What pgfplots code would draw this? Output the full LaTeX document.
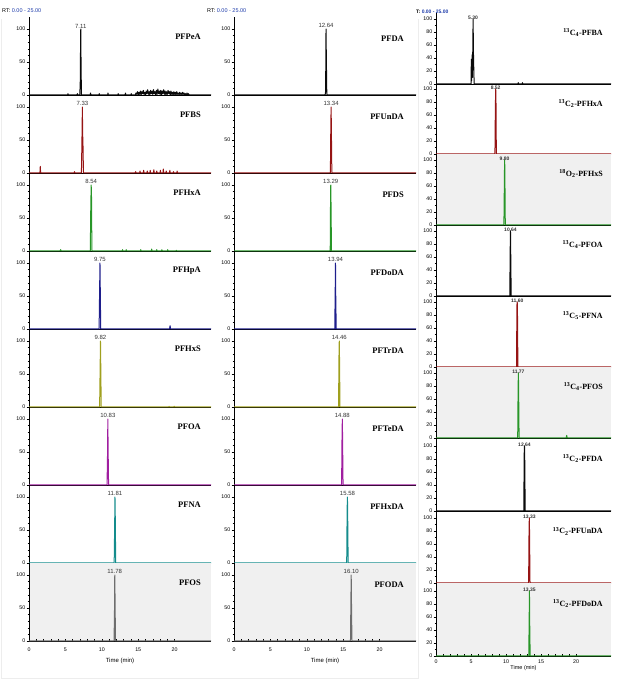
\documentclass[border=0pt]{standalone}
\usepackage{fontspec}
\setmainfont{Liberation Serif}
\setsansfont{Liberation Sans}
\usepackage{pgfplots}
\pgfplotsset{compat=1.18}
\definecolor{shadegray}{RGB}{240,240,240}
\definecolor{cblk}{RGB}{10,10,10}
\definecolor{cred}{RGB}{150,20,20}
\definecolor{cgrn}{RGB}{40,150,40}
\definecolor{cnav}{RGB}{30,30,140}
\definecolor{colv}{RGB}{160,160,30}
\definecolor{cpur}{RGB}{160,30,160}
\definecolor{ctea}{RGB}{20,140,140}
\definecolor{cgry}{RGB}{110,110,110}
\definecolor{rtblue}{RGB}{30,60,170}
\newcommand{\tk}{\sffamily\fontsize{5.3}{5.3}\selectfont}
\pgfplotsset{
 base/.style={scale only axis, xmin=0, xmax=25, ymin=0, clip=false,
   axis lines=left, axis line style={-, line width=0.5pt, black},
   xtick=\empty, tick align=outside, major tick length=2.5pt, minor tick length=1.5pt,
   tick style={line width=0.4pt, black},
   /pgf/number format/assume math mode=true,
   ticklabel style={font=\tk, inner sep=1pt},
   anchor=south west},
 colL/.style={base, width=182pt, height=78pt, ymax=118.2, ytick={0,50,100}, minor y tick num=4},
 colR/.style={base, width=175pt, ytick={0,20,...,100}, minor y tick num=1},
 bottom/.style={xtick={0,5,...,20}, minor x tick num=4, xlabel={Time (min)},
   x tick label style={yshift=-3pt},
   major x tick style={yshift=1.8pt, line width=0.5pt},
   minor x tick style={yshift=1.6pt},
   xlabel style={font=\sffamily\fontsize{6}{6}\selectfont, inner sep=1pt, yshift=-4pt}},
 bottomR/.style={xtick={0,5,...,20}, minor x tick num=4, xlabel={Time (min)},
   major x tick style={yshift=1.5pt, line width=0.5pt},
   minor x tick style={yshift=1.5pt},
   xlabel style={font=\sffamily\fontsize{5.5}{5.5}\selectfont, inner sep=1pt}},
 shade/.style={axis background/.style={fill=shadegray, draw=none}},
 pk/.style={line width=1pt, line join=round},
}
\tikzset{rtl/.style={anchor=south, inner sep=0.8pt, font=\sffamily\fontsize{6}{6}\selectfont, text=black!80},
  cn/.style={anchor=east, inner sep=0pt, font=\bfseries\fontsize{8.5}{8.5}\selectfont}}
\newcommand{\rt}[2][]{\node[rtl,#1] at (axis cs:#2,100) {#2};}
\newcommand{\cname}[1]{\node[cn] at (rel axis cs:\labx,\laby) {#1};}
\begin{document}
\begin{tikzpicture}
\useasboundingbox (0,0) rectangle (621pt,685pt);
% faint column frames
\draw[black!7, line width=0.6pt] (1pt,7pt) -- (1pt,666pt);
\draw[black!7, line width=0.6pt] (1pt,7pt) -- (211pt,7pt);
\draw[black!7, line width=0.6pt] (211pt,7pt) -- (418pt,7pt) -- (418pt,666pt);
% headers
\node[anchor=west, inner sep=0pt, font=\sffamily\fontsize{5.5}{5.5}\selectfont] at (2pt,674pt) {RT: \textcolor{rtblue}{0.00 - 25.00}};
\node[anchor=west, inner sep=0pt, font=\sffamily\fontsize{5.5}{5.5}\selectfont] at (207pt,674pt) {RT: \textcolor{rtblue}{0.00 - 25.00}};
\node[anchor=west, inner sep=0pt, font=\sffamily\bfseries\fontsize{5}{5}\selectfont] at (416pt,673pt) {T: \textcolor{rtblue}{0.00 - 25.00}};
% ================= LEFT COLUMN =================
\def\labx{0.945}\def\laby{0.745}
\begin{axis}[colL, at={(29pt,590pt)}]
\addplot[pk, cblk] coordinates {(0,0)(5.3,0)(5.35,2)(5.4,0)(6.6,0)(6.65,2)(6.7,0)(6.98,0)(7.04,20)(7.08,72)(7.11,100)(7.14,60)(7.2,0)(8.4,0)(8.45,3)(8.5,0)(9.6,0)(9.65,2)(9.7,0)(10.8,0)(10.85,3)(10.9,0)(12.2,0)(12.25,2)(12.3,0)(13.2,0)(13.25,3)(13.3,0)(14.0,0)(14.05,2)(14.1,0)(14.6,0)(14.7,3)(14.8,1)(14.9,5)(15.0,0)(15.1,4)(15.2,1)(15.3,6)(15.4,0)(15.5,5)(15.6,2)(15.7,7)(15.8,1)(15.9,4)(16.0,0)(16.1,6)(16.2,2)(16.3,8)(16.4,1)(16.5,5)(16.6,0)(16.7,7)(16.8,2)(16.9,6)(17.0,1)(17.1,8)(17.2,2)(17.3,5)(17.4,0)(17.5,7)(17.6,1)(17.7,9)(17.8,2)(17.9,6)(18.0,1)(18.1,7)(18.2,0)(18.3,6)(18.4,2)(18.5,8)(18.6,1)(18.7,6)(18.8,0)(18.9,5)(19.0,1)(19.1,7)(19.2,2)(19.3,5)(19.4,0)(19.5,6)(19.6,1)(19.7,4)(19.8,0)(19.9,5)(20.0,1)(20.1,4)(20.2,0)(20.3,5)(20.4,1)(20.5,3)(20.6,0)(20.7,4)(20.8,1)(20.9,3)(21.0,0)(21.1,4)(21.2,1)(21.3,3)(21.4,0)(21.5,2)(21.6,0)(21.7,3)(21.8,0)(21.9,2)(22.0,0)(25,0)};
\rt{7.11}\cname{PFPeA}
\end{axis}
\begin{axis}[colL, at={(29pt,512pt)}]
\addplot[pk, cred] coordinates {(0,0)(1.5,0)(1.55,10)(1.6,0)(6.2,0)(6.25,2)(6.3,0)(7.2,0)(7.26,40)(7.3,70)(7.33,100)(7.37,60)(7.42,40)(7.48,0)(14.6,0)(14.65,2)(14.7,0)(15.2,0)(15.25,3)(15.3,0)(15.7,0)(15.75,4)(15.8,0)(16.2,0)(16.25,3)(16.3,0)(16.6,0)(16.65,4)(16.7,0)(17.1,0)(17.15,5)(17.2,0)(17.5,0)(17.55,3)(17.6,0)(18.0,0)(18.05,4)(18.1,0)(18.4,0)(18.45,6)(18.5,0)(18.8,0)(18.85,3)(18.9,0)(19.3,0)(19.35,4)(19.4,0)(19.8,0)(19.85,2)(19.9,0)(20.3,0)(20.35,3)(20.4,0)(25,0)};
\rt{7.33}\cname{PFBS}
\end{axis}
\begin{axis}[colL, at={(29pt,434pt)}]
\addplot[pk, cgrn] coordinates {(0,0)(4.3,0)(4.35,2)(4.4,0)(8.42,0)(8.48,60)(8.54,100)(8.58,90)(8.64,0)(12.8,0)(12.85,2)(12.9,0)(13.3,0)(13.35,2)(13.4,0)(15.3,0)(15.35,2)(15.4,0)(16.8,0)(16.85,3)(16.9,0)(17.5,0)(17.55,2)(17.6,0)(18.2,0)(18.25,2)(18.3,0)(19.0,0)(19.05,2)(19.1,0)(20.2,0)(20.25,1)(20.3,0)(25,0)};
\rt{8.54}\cname{PFHxA}
\end{axis}
\begin{axis}[colL, at={(29pt,356pt)}]
\addplot[pk, cnav] coordinates {(0,0)(9.63,0)(9.69,50)(9.75,100)(9.78,70)(9.85,0)(19.3,0)(19.38,5)(19.45,0)(25,0)};
\rt{9.75}\cname{PFHpA}
\end{axis}
\begin{axis}[colL, at={(29pt,278pt)}]
\addplot[pk, colv] coordinates {(0,0)(9.7,0)(9.76,50)(9.82,100)(9.85,72)(9.92,0)(19.2,0)(19.25,1)(19.3,0)(19.9,0)(19.95,1)(20.0,0)(25,0)};
\rt{9.82}\cname{PFHxS}
\end{axis}
\begin{axis}[colL, at={(29pt,200pt)}]
\addplot[pk, cpur] coordinates {(0,0)(10.72,0)(10.78,40)(10.83,100)(10.86,62)(10.93,0)(25,0)};
\rt{10.83}\cname{PFOA}
\end{axis}
\begin{axis}[colL, at={(29pt,122pt)}]
\addplot[pk, ctea] coordinates {(0,0)(11.7,0)(11.76,50)(11.81,100)(11.84,80)(11.91,0)(25,0)};
\rt{11.81}\cname{PFNA}
\end{axis}
\begin{axis}[colL, bottom, shade, at={(29pt,44pt)}]
\addplot[pk, cgry] coordinates {(0,0)(11.68,0)(11.74,40)(11.78,100)(11.81,75)(11.88,0)(25,0)};
\rt{11.78}\cname{PFOS}
\end{axis}
% ================= MIDDLE COLUMN =================
\def\labx{0.934}\def\laby{0.72}
\begin{axis}[colL, at={(234pt,590pt)}]
\addplot[pk, cblk] coordinates {(0,0)(12.52,0)(12.58,5)(12.62,60)(12.64,100)(12.68,60)(12.75,0)(25,0)};
\rt{12.64}\cname{PFDA}
\end{axis}
\begin{axis}[colL, at={(234pt,512pt)}]
\addplot[pk, cred] coordinates {(0,0)(13.24,0)(13.3,72)(13.34,100)(13.37,72)(13.44,0)(25,0)};
\rt{13.34}\cname{PFUnDA}
\end{axis}
\begin{axis}[colL, at={(234pt,434pt)}]
\addplot[pk, cgrn] coordinates {(0,0)(13.19,0)(13.23,10)(13.26,78)(13.29,100)(13.32,78)(13.39,0)(25,0)};
\rt{13.29}\cname{PFDS}
\end{axis}
\begin{axis}[colL, at={(234pt,356pt)}]
\addplot[pk, cnav] coordinates {(0,0)(13.84,0)(13.9,55)(13.94,100)(13.97,55)(14.04,0)(25,0)};
\rt{13.94}\cname{PFDoDA}
\end{axis}
\begin{axis}[colL, at={(234pt,278pt)}]
\addplot[pk, colv] coordinates {(0,0)(14.36,0)(14.42,77)(14.46,100)(14.49,77)(14.56,0)(25,0)};
\rt{14.46}\cname{PFTrDA}
\end{axis}
\begin{axis}[colL, at={(234pt,200pt)}]
\addplot[pk, cpur] coordinates {(0,0)(14.78,0)(14.84,75)(14.88,100)(14.91,75)(14.98,0)(25,0)};
\rt{14.88}\cname{PFTeDA}
\end{axis}
\begin{axis}[colL, at={(234pt,122pt)}]
\addplot[pk, ctea] coordinates {(0,0)(15.48,0)(15.54,80)(15.58,100)(15.61,80)(15.68,0)(25,0)};
\rt{15.58}\cname{PFHxDA}
\end{axis}
\begin{axis}[colL, bottom, shade, at={(234pt,44pt)}]
\addplot[pk, cgry] coordinates {(0,0)(16.0,0)(16.06,65)(16.1,100)(16.13,65)(16.2,0)(25,0)};
\rt{16.10}\cname{PFODA}
\end{axis}
% ================= RIGHT COLUMN =================
\def\labx{0.954}\def\laby{0.72}
\tikzset{rtl/.append style={yshift=-2pt, font=\sffamily\bfseries\fontsize{5}{5}\selectfont}, cn/.append style={font=\bfseries\fontsize{8}{8}\selectfont}}
\begin{axis}[colR, height=71pt, ymax=109.2, at={(436pt,601pt)}]
\addplot[pk, cblk] coordinates {(0,0)(5.0,0)(5.05,38)(5.1,5)(5.15,45)(5.2,10)(5.25,50)(5.3,100)(5.35,48)(5.4,22)(5.45,0)(11.7,0)(11.75,2)(11.8,0)(12.3,0)(12.35,2)(12.4,0)(25,0)};
\rt{5.30}\cname{\textsuperscript{13}C\textsubscript{4}-PFBA}
\end{axis}
\begin{axis}[colR, height=70pt, ymax=107.7, at={(436pt,531pt)}]
\addplot[pk, cred] coordinates {(0,0)(8.42,0)(8.47,60)(8.52,100)(8.56,95)(8.62,0)(25,0)};
\rt{8.52}\cname{\textsuperscript{13}C\textsubscript{2}-PFHxA}
\end{axis}
\begin{axis}[colR, shade, height=71pt, ymax=109.2, at={(436pt,460pt)}]
\addplot[pk, cgrn] coordinates {(0,0)(9.7,0)(9.76,60)(9.8,100)(9.83,90)(9.9,0)(25,0)};
\rt{9.80}\cname{\textsuperscript{18}O\textsubscript{2}-PFHxS}
\end{axis}
\begin{axis}[colR, height=71pt, ymax=109.2, at={(436pt,389pt)}]
\addplot[pk, cblk] coordinates {(0,0)(10.54,0)(10.6,72)(10.64,100)(10.67,72)(10.74,0)(25,0)};
\rt{10.64}\cname{\textsuperscript{13}C\textsubscript{4}-PFOA}
\end{axis}
\begin{axis}[colR, height=71pt, ymax=109.2, at={(436pt,318pt)}]
\addplot[pk, cred] coordinates {(0,0)(11.5,0)(11.56,95)(11.6,100)(11.63,95)(11.7,0)(25,0)};
\rt{11.60}\cname{\textsuperscript{13}C\textsubscript{5}-PFNA}
\end{axis}
\begin{axis}[colR, shade, height=71pt, ymax=109.2, at={(436pt,247pt)}]
\addplot[pk, cgrn] coordinates {(0,0)(11.67,0)(11.73,78)(11.77,100)(11.8,78)(11.87,0)(18.6,0)(18.67,4)(18.74,0)(25,0)};
\rt{11.77}\cname{\textsuperscript{13}C\textsubscript{4}-PFOS}
\end{axis}
\begin{axis}[colR, height=73pt, ymax=112.3, at={(436pt,174pt)}]
\addplot[pk, cblk] coordinates {(0,0)(12.54,0)(12.6,88)(12.64,100)(12.67,88)(12.74,0)(25,0)};
\rt{12.64}\cname{\textsuperscript{13}C\textsubscript{2}-PFDA}
\end{axis}
\begin{axis}[colR, height=72pt, ymax=110.8, at={(436pt,102pt)}]
\addplot[pk, cred] coordinates {(0,0)(13.23,0)(13.29,80)(13.33,100)(13.36,80)(13.43,0)(25,0)};
\rt{13.33}\cname{\textsuperscript{13}C\textsubscript{2}-PFUnDA}
\end{axis}
\begin{axis}[colR, bottomR, shade, height=73pt, ymax=112.3, at={(436pt,29pt)}]
\addplot[pk, cgrn] coordinates {(0,0)(13.25,0)(13.31,56)(13.35,100)(13.38,56)(13.45,0)(25,0)};
\rt{13.35}\cname{\textsuperscript{13}C\textsubscript{2}-PFDoDA}
\end{axis}
\end{tikzpicture}
\end{document}
